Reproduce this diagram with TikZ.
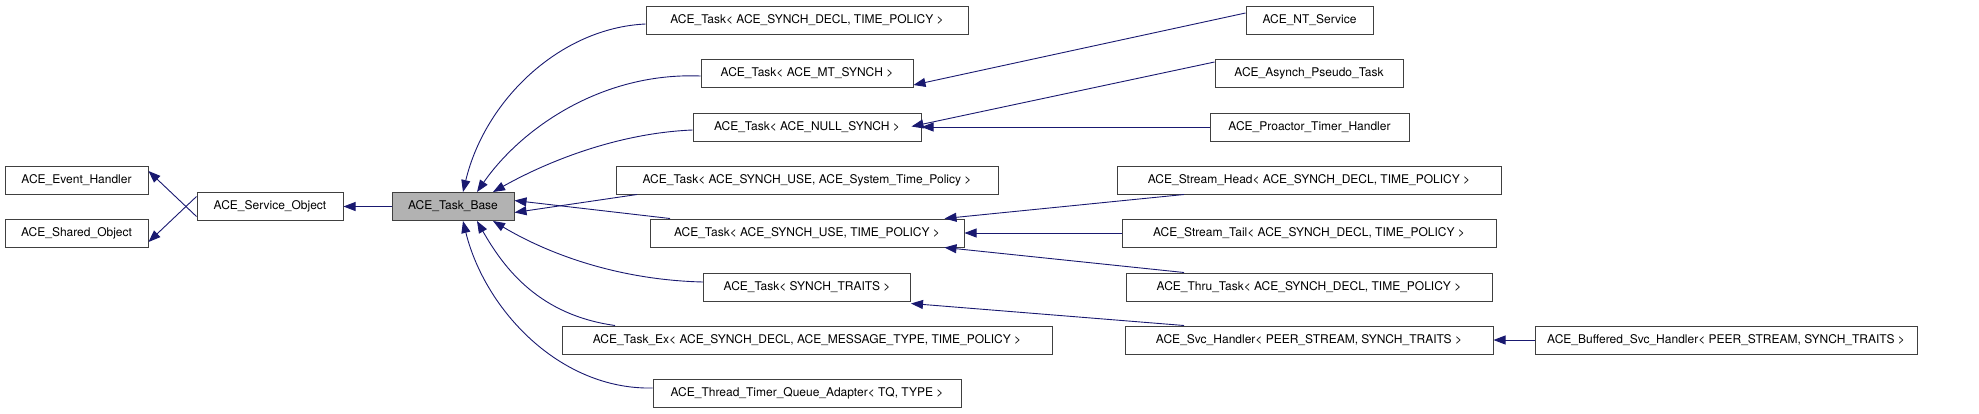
\documentclass[tikz,border=0pt]{standalone}
\usepackage{fontspec}
\setmainfont{TeX Gyre Heros}
\usetikzlibrary{arrows.meta}
\definecolor{edge}{HTML}{191970}
\definecolor{bord}{HTML}{404040}
\begin{document}
\begin{tikzpicture}[x=1pt,y=-1pt,
  box/.style={draw=bord,line width=1pt,fill=white,inner sep=0,minimum height=28pt,font=\fontsize{12}{14}\selectfont},
  inh/.style={draw=edge,line width=0.9pt,-{Triangle[length=12pt,width=9pt]}}]
\useasboundingbox (0,0) rectangle (1979,413);
\node[box,minimum width=143pt] (eh) at (76.5,180) {ACE\_Event\_Handler};
\node[box,minimum width=143pt] (so) at (76.5,233) {ACE\_Shared\_Object};
\node[box,minimum width=146pt] (svc) at (270,206.5) {ACE\_Service\_Object};
\node[box,minimum width=122pt,fill=gray!60] (tb) at (453,206.5) {ACE\_Task\_Base};
\node[box,minimum width=322pt] (t0) at (807,20) {ACE\_Task< ACE\_SYNCH\_DECL, TIME\_POLICY >};
\node[box,minimum width=212pt] (t1) at (807,73) {ACE\_Task< ACE\_MT\_SYNCH >};
\node[box,minimum width=228pt] (t2) at (807,127) {ACE\_Task< ACE\_NULL\_SYNCH >};
\node[box,minimum width=382pt] (t3) at (807,180) {ACE\_Task< ACE\_SYNCH\_USE, ACE\_System\_Time\_Policy >};
\node[box,minimum width=314pt] (t4) at (807,233) {ACE\_Task< ACE\_SYNCH\_USE, TIME\_POLICY >};
\node[box,minimum width=207pt] (t5) at (807,287) {ACE\_Task< SYNCH\_TRAITS >};
\node[box,minimum width=490pt] (t6) at (807,340) {ACE\_Task\_Ex< ACE\_SYNCH\_DECL, ACE\_MESSAGE\_TYPE, TIME\_POLICY >};
\node[box,minimum width=308pt] (t7) at (807,393) {ACE\_Thread\_Timer\_Queue\_Adapter< TQ, TYPE >};
\node[box,minimum width=127pt] (r0) at (1309.5,20) {ACE\_NT\_Service};
\node[box,minimum width=188pt] (r1) at (1309,73) {ACE\_Asynch\_Pseudo\_Task};
\node[box,minimum width=199pt] (r2) at (1309.5,127) {ACE\_Proactor\_Timer\_Handler};
\node[box,minimum width=384pt] (r3) at (1309,180) {ACE\_Stream\_Head< ACE\_SYNCH\_DECL, TIME\_POLICY >};
\node[box,minimum width=374pt] (r4) at (1309,233) {ACE\_Stream\_Tail< ACE\_SYNCH\_DECL, TIME\_POLICY >};
\node[box,minimum width=366pt] (r5) at (1309,287) {ACE\_Thru\_Task< ACE\_SYNCH\_DECL, TIME\_POLICY >};
\node[box,minimum width=368pt] (r6) at (1309,340) {ACE\_Svc\_Handler< PEER\_STREAM, SYNCH\_TRAITS >};
\node[box,minimum width=382pt] (bf) at (1726,340) {ACE\_Buffered\_Svc\_Handler< PEER\_STREAM, SYNCH\_TRAITS >};
% left
\draw[inh] ([yshift=-10pt]svc.west) -- ([yshift=9pt]eh.east);
\draw[inh] ([yshift=10pt]svc.west) -- ([yshift=-9pt]so.east);
\draw[inh] (tb.west) -- (svc.east);
% to Task_Base
\draw[inh] ([yshift=-4pt]t0.west) .. controls (560,28) and (485,100) .. ([xshift=10pt]tb.north);
\draw[inh] ([yshift=-3pt]t1.west) .. controls (600,72) and (520,130) .. ([xshift=24pt]tb.north);
\draw[inh] ([yshift=-3pt]t2.west) .. controls (620,133) and (550,160) .. ([xshift=40pt]tb.north);
\draw[inh] ([xshift=-170pt]t3.south) -- ([yshift=-6pt]tb.east);
\draw[inh] ([xshift=-137pt]t4.north) -- ([yshift=6pt]tb.east);
\draw[inh] ([yshift=5pt]t5.west) .. controls (620,280) and (550,255) .. ([xshift=40pt]tb.south);
\draw[inh] ([xshift=-192pt]t6.north) .. controls (540,315) and (505,270) .. ([xshift=24pt]tb.south);
\draw[inh] ([yshift=5pt]t7.west) .. controls (560,390) and (485,310) .. ([xshift=10pt]tb.south);
% right
\draw[inh] ([yshift=7pt]r0.west) -- ([yshift=-12pt]t1.east);
\draw[inh] ([yshift=11pt]r1.west) -- ([yshift=-14pt,xshift=-10pt]t2.north east);
\draw[inh] (r2.west) -- (t2.east);
\draw[inh] ([xshift=-125pt]r3.south) -- ([xshift=-20pt]t4.north east);
\draw[inh] (r4.west) -- (t4.east);
\draw[inh] ([xshift=-125pt]r5.north) -- ([xshift=-20pt]t4.south east);
\draw[inh] ([xshift=-125pt]r6.north) -- ([yshift=-2pt]t5.south east);
\draw[inh] (bf.west) -- (r6.east);
\end{tikzpicture}
\end{document}
